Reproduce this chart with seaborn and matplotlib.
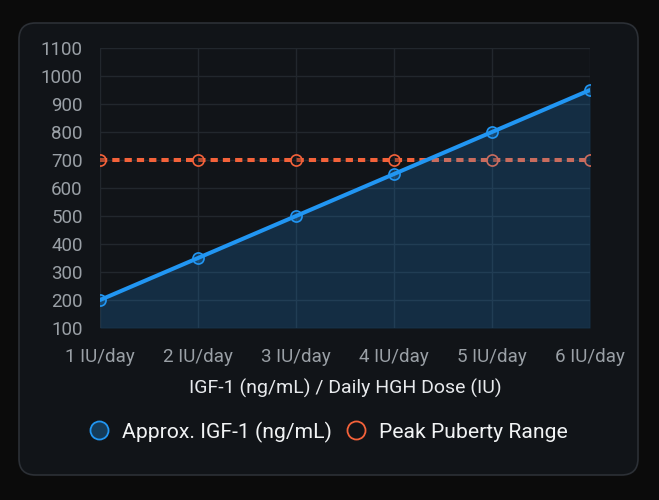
import matplotlib
matplotlib.use("Agg")
import matplotlib.pyplot as plt
import seaborn as sns
import pandas as pd
from matplotlib.patches import FancyBboxPatch
from matplotlib.lines import Line2D

doses = ["1 IU/day", "2 IU/day", "3 IU/day", "4 IU/day", "5 IU/day", "6 IU/day"]
igf1 = [200, 350, 500, 650, 800, 950]
peak = [700, 700, 700, 700, 700, 700]
y_ticks = [100, 200, 300, 400, 500, 600, 700, 800, 900, 1000, 1100]

sns.set_theme(style="dark")
plt.rcParams["font.family"] = ["Roboto", "DejaVu Sans"]

BG = "#0b0b0b"
PANEL = "#111418"
GRID = "#22272d"
BLUE = "#2196f3"
ORANGE = "#f4623a"
TICK = "#9aa0a6"

W, H = 659, 500
fig = plt.figure(figsize=(W / 100, H / 100), dpi=100, facecolor=BG)
panel = FancyBboxPatch((19 / W, 25 / H), 619 / W, 452 / H,
                       boxstyle="round,pad=0,rounding_size=0.025",
                       transform=fig.transFigure, facecolor=PANEL,
                       edgecolor="#2c3036", linewidth=1.2, mutation_aspect=W / H,
                       zorder=-10)
fig.patches.append(panel)

ax = fig.add_axes([100 / W, (H - 328) / H, 490 / W, 280 / H])
ax.set_facecolor(PANEL)
ax.set_zorder(1)

df = pd.DataFrame({"x": range(len(doses)), "dose": doses, "igf1": igf1, "peak": peak})

sns.lineplot(data=df, x="x", y="peak", ax=ax, color=ORANGE, linewidth=2.9,
             dashes=False, zorder=2)
ax.lines[-1].set_dashes([1.8, 1.25])
ax.lines[-1].set_marker("o")
ax.lines[-1].set_markersize(8)
ax.lines[-1].set_markerfacecolor((0.07, 0.08, 0.1, 0.3))
ax.lines[-1].set_markeredgecolor(ORANGE)
ax.lines[-1].set_markeredgewidth(1.2)

ax.fill_between(df["x"], df["igf1"], 100, color=BLUE, alpha=0.2, linewidth=0, zorder=3)
sns.lineplot(data=df, x="x", y="igf1", ax=ax, color=BLUE, linewidth=2.9,
             marker="o", markersize=8, markerfacecolor=(0.13, 0.59, 0.95, 0.25),
             markeredgecolor=BLUE, markeredgewidth=1.2, zorder=4)

ax.set_xlim(0, len(doses) - 1)
ax.set_ylim(100, 1100)
ax.set_yticks(y_ticks)
ax.set_xticks(range(len(doses)))
ax.set_xticklabels(doses)
ax.grid(True, color=GRID, linewidth=1)
for s in ax.spines.values():
    s.set_visible(False)
ax.tick_params(axis="both", colors=GRID, labelcolor=TICK, labelsize=13.5,
               length=8.5, width=1, pad=4)
ax.tick_params(axis="x", pad=6)
ax.set_ylabel("")
ax.set_xlabel("IGF-1 (ng/mL) / Daily HGH Dose (IU)", color="#e8eaed",
              fontsize=14, labelpad=9)

handles = [
    Line2D([], [], linestyle="none", marker="o", markersize=13,
           markerfacecolor=(0.13, 0.59, 0.95, 0.3), markeredgecolor=BLUE, markeredgewidth=1.3),
    Line2D([], [], linestyle="none", marker="o", markersize=13,
           markerfacecolor=(0, 0, 0, 0), markeredgecolor=ORANGE, markeredgewidth=1.3),
]
leg = fig.legend(handles, ["Approx. IGF-1 (ng/mL)", "Peak Puberty Range"],
                 loc="center", bbox_to_anchor=(327 / W, (H - 432) / H), ncol=2,
                 frameon=False, fontsize=15.2, labelcolor="#f1f3f4",
                 handletextpad=0.5, columnspacing=0.55, handlelength=1.2)

fig.savefig("out.png", dpi=100, facecolor=BG)
